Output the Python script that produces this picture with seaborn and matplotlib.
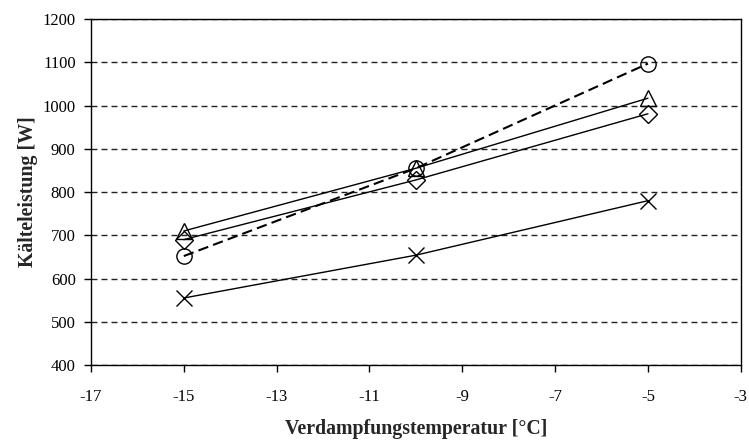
import matplotlib
matplotlib.use("Agg")
import matplotlib.pyplot as plt
import seaborn as sns
import pandas as pd

# Verdampfungstemperatur in °C
temps = [-15, -10, -5]
# Kälteleistung in W, one list per series (marker shape in the original)
triangle = [710, 855, 1017]
diamond = [690, 828, 981]
circle = [652, 855, 1097]
cross = [555, 654, 780]

sns.set_style("white")
plt.rcParams['font.family'] = ['Liberation Serif', 'DejaVu Serif']
plt.rcParams['axes.unicode_minus'] = False

fig = plt.figure(figsize=(7.49, 4.43), dpi=100)
ax = fig.add_axes([0.1215, 0.176, 0.8675, 0.781])

series = [
    (triangle, '^', '-', 1.0, 11),
    (diamond, 'D', '-', 1.0, 9.5),
    (circle, 'o', (0, (5, 2.5)), 1.5, 11),
    (cross, 'x', '-', 1.0, 11),
]
for vals, mk, ls, lw, ms in series:
    df = pd.DataFrame({'T': temps, 'Q': vals})
    sns.lineplot(data=df, x='T', y='Q', ax=ax, color='black', linestyle=ls,
                 linewidth=lw, marker=mk, markersize=ms,
                 markerfacecolor='none', markeredgecolor='black',
                 markeredgewidth=1.0, zorder=3)

ax.set_xlim(-17, -3)
ax.set_ylim(400, 1200)
ax.set_xticks(range(-17, -2, 2))
ax.set_yticks(range(400, 1201, 100))
ax.yaxis.grid(True, color='#222222', linestyle=(0, (4.3, 2.9)), linewidth=1.0)
ax.xaxis.grid(False)
for s in ax.spines.values():
    s.set_color('black')
    s.set_linewidth(1.0)
ax.tick_params(axis='both', direction='out', length=5, width=1, colors='black',
               labelsize=12, bottom=True, left=True)
ax.tick_params(axis='x', pad=12)
ax.tick_params(axis='y', pad=6)
ax.set_xlabel('Verdampfungstemperatur [°C]', fontsize=14.3, fontweight='bold', labelpad=10)
ax.set_ylabel('Kälteleistung [W]', fontsize=14.3, fontweight='bold', labelpad=3)

fig.savefig('out.png', dpi=100)
